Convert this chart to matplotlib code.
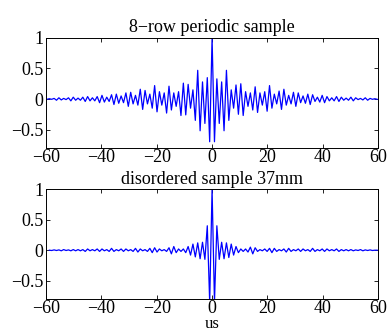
import numpy as np
import matplotlib
matplotlib.use("Agg")
import matplotlib.pyplot as plt

# --- Data: extrema (alternating peak / trough) ---
# half period of the oscillation, in us
HALF_PERIOD = 0.865

# 8-row periodic sample, extrema from t=0 going right (k = 0..69)
top_right = [1.00, -0.70, 0.33, -0.40, 0.28, -0.52, 0.47, -0.35, 0.15, -0.15,
             0.23, -0.25, 0.25, -0.27, 0.12, -0.12, 0.10, -0.18, 0.20, -0.22,
             0.10, -0.10, 0.12, -0.20, 0.22, -0.15, 0.08, -0.08, 0.13, -0.17,
             0.16, -0.10, 0.06, -0.08, 0.11, -0.12, 0.10, -0.06, 0.05, -0.07,
             0.08, -0.09, 0.07, -0.04, 0.03, -0.05, 0.06, -0.06, 0.04, -0.03,
             0.02, -0.03, 0.04, -0.04, 0.03, -0.02, 0.015, -0.02, 0.03, -0.03,
             0.02, -0.01, 0.01, -0.015, 0.02, -0.02, 0.01, -0.005, 0.005, -0.005]
# same sample, extrema from t=0 going left (k = 1..69)
top_left = [-0.70, 0.35, -0.40, 0.28, -0.52, 0.47, -0.35, 0.15, -0.15,
            0.24, -0.26, 0.26, -0.27, 0.12, -0.12, 0.10, -0.18, 0.21, -0.23,
            0.10, -0.10, 0.12, -0.21, 0.22, -0.15, 0.08, -0.08, 0.14, -0.17,
            0.16, -0.10, 0.06, -0.08, 0.11, -0.12, 0.10, -0.06, 0.05, -0.07,
            0.08, -0.09, 0.07, -0.04, 0.03, -0.05, 0.06, -0.06, 0.04, -0.03,
            0.02, -0.03, 0.04, -0.04, 0.03, -0.02, 0.015, -0.02, 0.03, -0.03,
            0.02, -0.01, 0.01, -0.015, 0.02, -0.02, 0.01, -0.005, 0.005, -0.005]

# disordered sample 37mm
bot_right = [1.00, -0.85, 0.40, -0.15, 0.13, -0.14, 0.12, -0.12, 0.10, -0.08,
             0.06, -0.04, 0.02, -0.02, 0.02, -0.03, 0.05, -0.06, 0.04, -0.02,
             0.01, -0.01, 0.02, -0.02, 0.03, -0.04, 0.03, -0.02, 0.01, -0.01,
             0.02, -0.03, 0.03, -0.02, 0.01, -0.01, 0.02, -0.02, 0.02, -0.01,
             0.01, -0.02, 0.03, -0.02, 0.01, -0.01, 0.02, -0.02, 0.02, -0.01,
             0.01, -0.01, 0.02, -0.02, 0.01, -0.01, 0.01, -0.01, 0.01, -0.01,
             0.005, -0.005, 0.01, -0.01, 0.005, -0.005, 0.005, -0.005, 0.0, 0.0]
bot_left = [-0.85, 0.40, -0.15, 0.13, -0.14, 0.12, -0.11, 0.10, -0.08,
            0.06, -0.04, 0.02, -0.02, 0.02, -0.04, 0.06, -0.06, 0.04, -0.02,
            0.01, -0.01, 0.02, -0.03, 0.04, -0.04, 0.03, -0.02, 0.01, -0.01,
            0.02, -0.03, 0.03, -0.02, 0.01, -0.01, 0.02, -0.02, 0.02, -0.01,
            0.01, -0.02, 0.03, -0.02, 0.01, -0.01, 0.02, -0.02, 0.02, -0.01,
            0.01, -0.01, 0.02, -0.02, 0.01, -0.01, 0.01, -0.01, 0.01, -0.01,
            0.005, -0.005, 0.01, -0.01, 0.005, -0.005, 0.005, -0.005, 0.0]

titles = ["8\u2212row periodic sample", "disordered sample 37mm"]
x_ticks = [-60, -40, -20, 0, 20, 40, 60]
y_ticks = [-0.5, 0, 0.5, 1]
y_tick_labels = ['\u22120.5', '0', '0.5', '1']


def build_trace(right, left):
    vals = np.array(left[::-1] + right)
    k = np.arange(len(vals)) - len(left)
    return k * HALF_PERIOD, vals


plt.rcParams['font.family'] = ['Liberation Serif', 'DejaVu Serif']
plt.rcParams['axes.unicode_minus'] = True

fig = plt.figure(figsize=(3.87, 3.33), dpi=100)
ax_top = fig.add_axes([0.119, 0.556, 0.858, 0.330])
ax_bot = fig.add_axes([0.119, 0.102, 0.858, 0.330])

for ax, (right, left), title in zip([ax_top, ax_bot],
                                    [(top_right, top_left), (bot_right, bot_left)],
                                    titles):
    t, y = build_trace(right, left)
    ax.plot(t, y, color='#0000ff', linewidth=0.9)
    ax.set_xlim(-60, 60)
    ax.set_ylim(-0.8, 1)
    ax.set_xticks(x_ticks)
    ax.set_yticks(y_ticks)
    ax.set_yticklabels(y_tick_labels)
    ax.tick_params(direction='in', top=True, right=True, length=3,
                   width=0.6, labelsize=13, pad=2)
    ax.tick_params(axis='x', pad=1)
    for s in ax.spines.values():
        s.set_linewidth(0.7)
    ax.set_title(title, fontsize=13, pad=4)

ax_bot.set_xlabel('us', fontsize=12, labelpad=-1)

fig.savefig('out.png', dpi=100)
